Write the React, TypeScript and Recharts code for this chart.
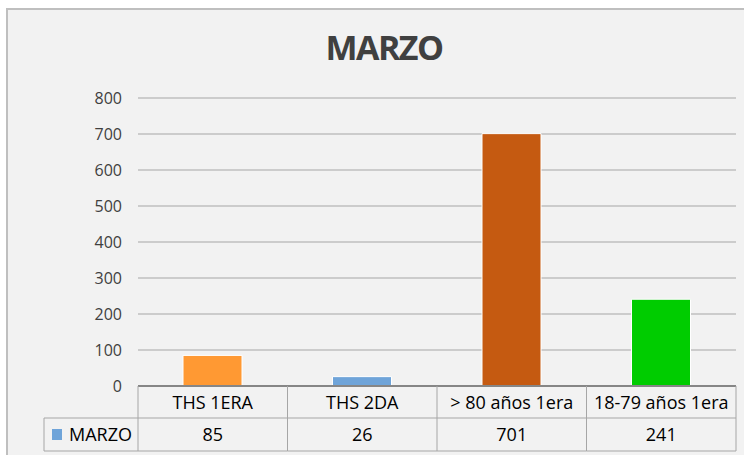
import { BarChart, Bar, Cell, XAxis, YAxis, CartesianGrid } from 'recharts';

const categories = ['THS 1ERA', 'THS 2DA', '> 80 años 1era', '18-79 años 1era'];
const marzoValues = [85, 26, 701, 241];
const barColors = ['#ff9933', '#6fa4d9', '#c55a11', '#00cc00'];
const yTicks = [0, 100, 200, 300, 400, 500, 600, 700, 800];
const seriesName = 'MARZO';
const seriesColor = '#6fa4d9';

const data = categories.map((name, i) => ({ name, value: marzoValues[i] }));

const FONT = '"Open Sans", "Noto Sans", sans-serif';
const TABLE_LINE = '#a6a6a6';
const COL_W = 149.5;

// draws one column of the data table under each category
function TableTick(props: any) {
  const { x, y, index, payload } = props;
  const top = y;
  const mid = top + 32;
  const bottom = top + 65;
  const left = x - COL_W / 2;
  const right = x + COL_W / 2;
  return (
    <g>
      <line x1={right} y1={top} x2={right} y2={bottom} stroke={TABLE_LINE} strokeWidth={1} />
      {index === 0 && <line x1={left} y1={top} x2={left} y2={bottom} stroke={TABLE_LINE} strokeWidth={1} />}
      <line x1={left} y1={mid} x2={right} y2={mid} stroke={TABLE_LINE} strokeWidth={1} />
      <line x1={left} y1={bottom} x2={right} y2={bottom} stroke={TABLE_LINE} strokeWidth={1} />
      <text x={x} y={top + 23} textAnchor="middle" fontFamily={FONT} fontSize={18} fill="#000">
        {payload.value}
      </text>
      <text x={x} y={mid + 23} textAnchor="middle" fontFamily={FONT} fontSize={18} fill="#000">
        {marzoValues[index]}
      </text>
      {index === 0 && (
        <g>
          <line x1={44} y1={mid} x2={left} y2={mid} stroke={TABLE_LINE} strokeWidth={1} />
          <line x1={44} y1={bottom} x2={left} y2={bottom} stroke={TABLE_LINE} strokeWidth={1} />
          <line x1={44} y1={mid} x2={44} y2={bottom} stroke={TABLE_LINE} strokeWidth={1} />
          <rect x={52} y={mid + 11} width={10} height={11} fill={seriesColor} />
          <text x={69} y={mid + 23} fontFamily={FONT} fontSize={18} fill="#000">
            {seriesName}
          </text>
        </g>
      )}
    </g>
  );
}

export default function App() {
  return (
    <div style={{ position: 'absolute', left: 0, top: 0, width: 744, height: 455, overflow: 'hidden', background: '#fff' }}>
      <div
        style={{
          position: 'absolute',
          left: 6,
          top: 8,
          width: 800,
          height: 500,
          background: '#f2f2f2',
          borderTop: '2px solid #bfbfbf',
          borderLeft: '2px solid #bfbfbf',
        }}
      />
      <div
        style={{
          position: 'absolute',
          left: 284,
          top: 24,
          width: 200,
          textAlign: 'center',
          fontFamily: FONT,
          fontWeight: 700,
          fontSize: 34,
          letterSpacing: -1.5,
          color: '#404040',
        }}
      >
        MARZO
      </div>
      <div style={{ position: 'absolute', left: 0, top: 0 }}>
        <BarChart width={744} height={455} data={data} margin={{ top: 98, right: 8, bottom: 4, left: 78 }}>
          <CartesianGrid vertical={false} stroke="#bfbfbf" strokeWidth={1.5} />
          <YAxis
            domain={[0, 800]}
            ticks={yTicks}
            width={60}
            axisLine={false}
            tickLine={false}
            tickSize={0}
            tickMargin={16}
            tick={{ fontFamily: FONT, fontSize: 16, fill: '#404040' }}
          />
          <XAxis
            dataKey="name"
            height={65}
            axisLine={{ stroke: '#868686', strokeWidth: 2 }}
            tickLine={false}
            tickSize={0}
            tickMargin={0}
            interval={0}
            tick={<TableTick />}
          />
          <Bar dataKey="value" barSize={59} stroke="#ffffff" strokeWidth={1} isAnimationActive={false}>
            {data.map((_, i) => (
              <Cell key={`cell-${i}`} fill={barColors[i]} />
            ))}
          </Bar>
        </BarChart>
      </div>
    </div>
  );
}
